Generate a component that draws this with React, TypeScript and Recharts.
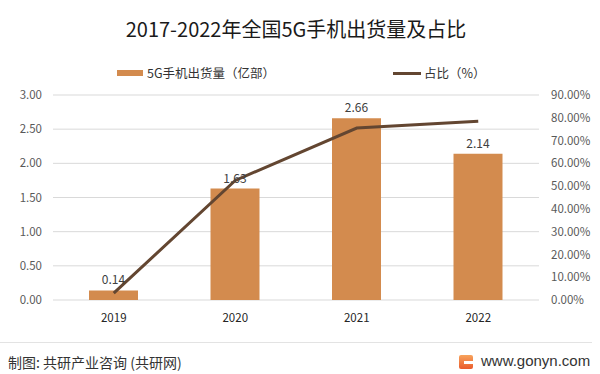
import {
  Bar,
  CartesianGrid,
  ComposedChart,
  LabelList,
  Legend,
  Line,
  XAxis,
  YAxis,
} from "recharts";

const years = ["2019", "2020", "2021", "2022"];
// 5G手机出货量（亿部）
const shipments = [0.14, 1.63, 2.66, 2.14];
// 占比（%）
const shares = [3.0, 52.5, 75.5, 78.5];
const leftTicks = [0, 0.5, 1, 1.5, 2, 2.5, 3];
const rightTicks = [0, 10, 20, 30, 40, 50, 60, 70, 80, 90];

const BAR = "#d38b4e";
const LINE = "#634631";
const FONT = '"Noto Sans CJK SC", "Noto Sans", sans-serif';

const data = years.map((year, i) => ({
  year,
  shipments: shipments[i],
  share: shares[i],
}));

function ChartLegend() {
  return (
    <div style={{ position: "relative", height: 20, fontSize: 12.5, color: "#333" }}>
      <span style={{ position: "absolute", left: 117, top: 7, width: 26, height: 6, background: BAR }} />
      <span style={{ position: "absolute", left: 147, top: 0, lineHeight: "20px", whiteSpace: "nowrap" }}>
        5G手机出货量（亿部）
      </span>
      <span style={{ position: "absolute", left: 393, top: 8.5, width: 28, height: 3, background: LINE }} />
      <span style={{ position: "absolute", left: 424, top: 0, lineHeight: "20px", whiteSpace: "nowrap" }}>
        占比（%）
      </span>
    </div>
  );
}

export default function App() {
  const tick = { fontSize: 11.5, fill: "#595959", fontFamily: FONT };
  return (
    <div style={{ position: "relative", width: 600, height: 374, background: "#fff", fontFamily: FONT }}>
      <style>{"body{margin:0}"}</style>
      <div
        style={{
          position: "absolute",
          top: 16,
          left: 0,
          width: 592,
          textAlign: "center",
          fontSize: 20,
          lineHeight: "26px",
          color: "#1a1a1a",
        }}
      >
        2017-2022年全国5G手机出货量及占比
      </div>
      <ComposedChart
        width={600}
        height={374}
        data={data}
        margin={{ top: 95, right: 0, bottom: 44, left: 0 }}
      >
        <CartesianGrid yAxisId="left" vertical={false} stroke="#d9d9d9" />
        <XAxis
          dataKey="year"
          height={30}
          axisLine={false}
          tickLine={false}
          tickMargin={8}
          tick={{ ...tick, fill: "#262626" }}
        />
        <YAxis
          yAxisId="left"
          width={53}
          domain={[0, 3]}
          ticks={leftTicks}
          axisLine={false}
          tickLine={false}
          tickMargin={5}
          tick={tick}
          tickFormatter={(v: number) => v.toFixed(2)}
        />
        <YAxis
          yAxisId="right"
          orientation="right"
          width={61}
          domain={[0, 90]}
          ticks={rightTicks}
          axisLine={false}
          tickLine={false}
          tickMargin={6}
          tick={tick}
          tickFormatter={(v: number) => v.toFixed(2) + "%"}
        />
        <Legend
          layout="horizontal"
          verticalAlign="middle"
          align="center"
          wrapperStyle={{ top: 63, left: 0, width: 600 }}
          content={() => <ChartLegend />}
        />
        <Bar
          yAxisId="left"
          dataKey="shipments"
          fill={BAR}
          barSize={49}
          isAnimationActive={false}
        >
          <LabelList
            dataKey="shipments"
            position="top"
            offset={6}
            style={{ fontSize: 12, fill: "#404040", fontFamily: FONT }}
            formatter={(v: number) => v.toFixed(2)}
          />
        </Bar>
        <Line
          yAxisId="right"
          dataKey="share"
          type="linear"
          stroke={LINE}
          strokeWidth={3}
          dot={false}
          activeDot={false}
          isAnimationActive={false}
        />
      </ComposedChart>
      <div style={{ position: "absolute", left: 0, top: 342, width: 592, height: 1, background: "#e3e3e3" }} />
      <div
        style={{
          position: "absolute",
          left: 8,
          top: 352,
          fontSize: 14,
          lineHeight: "20px",
          color: "#333",
        }}
      >
        制图: 共研产业咨询 (共研网)
      </div>
      <div
        style={{
          position: "absolute",
          left: 459,
          top: 355,
          width: 14,
          height: 14,
          borderRadius: 2,
          background: "linear-gradient(180deg, #f7a35c, #ea5b2c)",
        }}
      >
        <div style={{ position: "absolute", left: 5, top: 6, width: 9, height: 3, background: "#fff" }} />
      </div>
      <div
        style={{
          position: "absolute",
          left: 481,
          top: 351,
          fontSize: 15,
          lineHeight: "20px",
          color: "#333",
          fontFamily: '"Liberation Sans", Arial, sans-serif',
        }}
      >
        www.gonyn.com
      </div>
    </div>
  );
}
